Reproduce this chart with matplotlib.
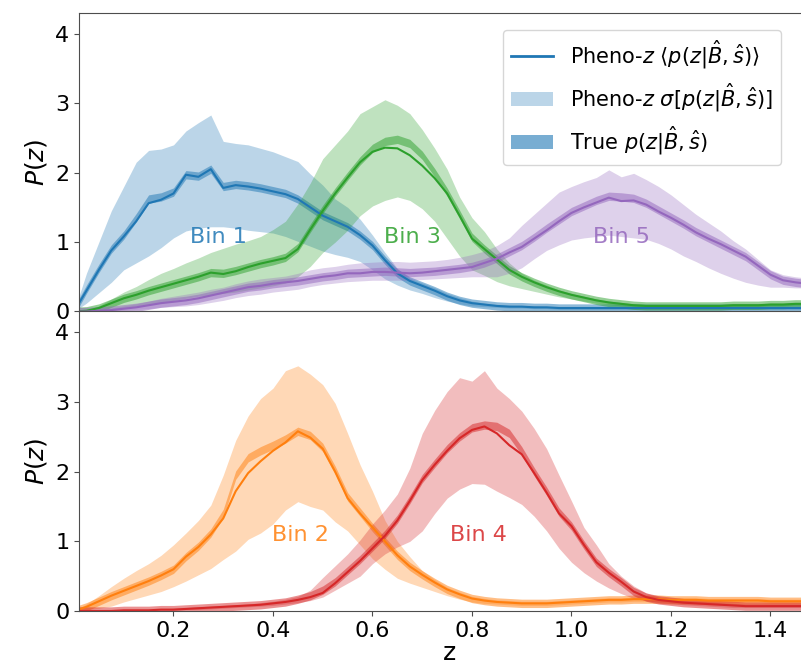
import numpy as np
import matplotlib
matplotlib.use("Agg")
import matplotlib.pyplot as plt
from matplotlib.lines import Line2D
from matplotlib.patches import Patch

# redshift grid the curves were read at (step 0.025)
z = np.linspace(0.0, 1.5, 61)

# ---- Bin 1 (blue) ----
bin1_mean = [0, 0.3, 0.6, 0.88, 1.08, 1.3, 1.56, 1.61, 1.7, 1.97, 1.94, 2.05, 1.78, 1.82, 1.8, 1.77,
             1.73, 1.69, 1.62, 1.5, 1.38, 1.3, 1.22, 1.1, 0.95, 0.74, 0.55, 0.44, 0.37, 0.3, 0.22, 0.16,
             0.12, 0.1, 0.08, 0.07, 0.07, 0.06, 0.06, 0.05, 0.05, 0.05, 0.05, 0.05, 0.05, 0.05, 0.05,
             0.05, 0.05, 0.05, 0.05, 0.05, 0.05, 0.05, 0.05, 0.05, 0.05, 0.05, 0.05, 0.05, 0.05]
bin1_hi = [0, 0.55, 1.0, 1.45, 1.8, 2.15, 2.32, 2.34, 2.4, 2.6, 2.72, 2.83, 2.45, 2.42, 2.4, 2.35,
           2.3, 2.23, 2.16, 1.98, 1.82, 1.62, 1.5, 1.33, 1.1, 0.85, 0.62, 0.48, 0.41, 0.34, 0.26, 0.2,
           0.15, 0.12, 0.1, 0.09, 0.08, 0.08, 0.07, 0.07, 0.07, 0.07, 0.07, 0.07, 0.07, 0.07, 0.07,
           0.07, 0.07, 0.07, 0.07, 0.07, 0.07, 0.07, 0.07, 0.07, 0.07, 0.07, 0.07, 0.07, 0.07]
bin1_lo = [0, 0.12, 0.27, 0.42, 0.6, 0.7, 0.8, 0.92, 1.06, 1.16, 1.2, 1.22, 1.22, 1.2, 1.17, 1.15,
           1.13, 1.08, 1.01, 0.94, 0.87, 0.82, 0.78, 0.72, 0.6, 0.47, 0.38, 0.31, 0.26, 0.2, 0.15, 0.11,
           0.08, 0.07, 0.06, 0.05, 0.05, 0.04, 0.04, 0.03, 0.03, 0.03, 0.03, 0.03, 0.03, 0.03, 0.03,
           0.03, 0.03, 0.03, 0.03, 0.03, 0.03, 0.03, 0.03, 0.03, 0.03, 0.03, 0.03, 0.03, 0.03]
bin1_true = [0, 0.32, 0.62, 0.9, 1.1, 1.35, 1.62, 1.65, 1.72, 1.97, 1.95, 2.05, 1.8, 1.83, 1.81, 1.78,
             1.74, 1.7, 1.62, 1.5, 1.38, 1.3, 1.22, 1.1, 0.95, 0.74, 0.55, 0.44, 0.37, 0.3, 0.22, 0.16,
             0.12, 0.1, 0.08, 0.07, 0.07, 0.06, 0.06, 0.05, 0.05, 0.05, 0.05, 0.05, 0.05, 0.05, 0.05,
             0.05, 0.05, 0.05, 0.05, 0.05, 0.05, 0.05, 0.05, 0.05, 0.05, 0.05, 0.05, 0.05, 0.05]

# ---- Bin 3 (green) ----
bin3_mean = [0, 0.01, 0.05, 0.12, 0.19, 0.24, 0.3, 0.35, 0.4, 0.45, 0.5, 0.56, 0.54, 0.58, 0.64, 0.69,
             0.73, 0.77, 0.9, 1.18, 1.45, 1.7, 1.93, 2.15, 2.3, 2.36, 2.35, 2.25, 2.1, 1.92, 1.7, 1.38,
             1.05, 0.9, 0.75, 0.6, 0.5, 0.42, 0.35, 0.29, 0.24, 0.2, 0.16, 0.13, 0.11, 0.09, 0.08,
             0.08, 0.08, 0.08, 0.08, 0.08, 0.08, 0.09, 0.09, 0.09, 0.1, 0.1, 0.11, 0.11, 0.12]
bin3_hi = [0, 0.02, 0.08, 0.18, 0.28, 0.36, 0.46, 0.55, 0.62, 0.7, 0.77, 0.85, 0.91, 0.97, 1.02, 1.08,
           1.18, 1.3, 1.55, 1.85, 2.2, 2.4, 2.6, 2.85, 2.95, 3.05, 2.97, 2.85, 2.62, 2.35, 2.05, 1.65,
           1.35, 1.15, 0.9, 0.7, 0.55, 0.45, 0.38, 0.31, 0.26, 0.22, 0.18, 0.15, 0.13, 0.11, 0.1,
           0.1, 0.1, 0.1, 0.1, 0.1, 0.1, 0.11, 0.11, 0.11, 0.12, 0.12, 0.13, 0.13, 0.14]
bin3_lo = [0, 0, 0.01, 0.03, 0.05, 0.08, 0.1, 0.13, 0.16, 0.19, 0.22, 0.24, 0.26, 0.28, 0.31, 0.34,
           0.37, 0.41, 0.5, 0.65, 0.85, 1.0, 1.17, 1.38, 1.52, 1.6, 1.65, 1.6, 1.48, 1.3, 1.05, 0.8,
           0.6, 0.52, 0.43, 0.37, 0.33, 0.29, 0.25, 0.21, 0.18, 0.15, 0.12, 0.1, 0.08, 0.07, 0.06,
           0.06, 0.06, 0.06, 0.06, 0.06, 0.06, 0.07, 0.07, 0.07, 0.08, 0.08, 0.09, 0.09, 0.1]
bin3_true = [0, 0.01, 0.05, 0.12, 0.19, 0.24, 0.3, 0.35, 0.4, 0.45, 0.5, 0.56, 0.55, 0.59, 0.64, 0.69,
             0.73, 0.78, 0.92, 1.2, 1.47, 1.72, 1.95, 2.17, 2.35, 2.45, 2.48, 2.42, 2.25, 2.0, 1.72, 1.4,
             1.07, 0.9, 0.75, 0.6, 0.5, 0.42, 0.35, 0.29, 0.24, 0.2, 0.16, 0.13, 0.11, 0.09, 0.08,
             0.08, 0.08, 0.08, 0.08, 0.08, 0.08, 0.09, 0.09, 0.09, 0.1, 0.1, 0.11, 0.11, 0.12]

# ---- Bin 5 (purple) ----
bin5_mean = [0, 0, 0.01, 0.02, 0.04, 0.06, 0.09, 0.12, 0.14, 0.16, 0.19, 0.23, 0.27, 0.31, 0.35, 0.37,
             0.4, 0.42, 0.44, 0.47, 0.5, 0.52, 0.55, 0.55, 0.57, 0.57, 0.56, 0.55, 0.56, 0.58, 0.6, 0.62,
             0.64, 0.7, 0.76, 0.85, 0.93, 1.05, 1.17, 1.3, 1.42, 1.5, 1.57, 1.64, 1.59, 1.6, 1.54,
             1.44, 1.35, 1.25, 1.14, 1.05, 0.97, 0.88, 0.79, 0.66, 0.53, 0.45, 0.42, 0.4, 0.39]
bin5_hi = [0, 0.01, 0.03, 0.05, 0.08, 0.11, 0.15, 0.19, 0.22, 0.25, 0.28, 0.32, 0.35, 0.4, 0.44, 0.47,
           0.49, 0.51, 0.55, 0.6, 0.63, 0.65, 0.68, 0.7, 0.71, 0.72, 0.72, 0.71, 0.72, 0.73, 0.75, 0.78,
           0.82, 0.87, 0.95, 1.06, 1.24, 1.4, 1.56, 1.72, 1.8, 1.87, 1.93, 2.04, 1.94, 1.99, 1.9,
           1.8, 1.68, 1.54, 1.4, 1.28, 1.16, 1.02, 0.9, 0.75, 0.6, 0.53, 0.5, 0.48, 0.47]
bin5_lo = [0, 0, 0, 0.01, 0.02, 0.03, 0.04, 0.06, 0.07, 0.08, 0.1, 0.13, 0.16, 0.2, 0.23, 0.25,
           0.28, 0.3, 0.32, 0.36, 0.39, 0.41, 0.43, 0.44, 0.45, 0.45, 0.45, 0.45, 0.46, 0.47, 0.48, 0.49,
           0.5, 0.5, 0.5, 0.55, 0.63, 0.76, 0.88, 0.96, 1.03, 1.06, 1.08, 1.1, 1.08, 1.06, 1.04,
           0.98, 0.9, 0.8, 0.72, 0.63, 0.55, 0.48, 0.42, 0.38, 0.35, 0.35, 0.34, 0.34, 0.33]
bin5_true = [0, 0, 0.01, 0.02, 0.04, 0.06, 0.09, 0.12, 0.14, 0.16, 0.19, 0.23, 0.27, 0.31, 0.35, 0.37,
             0.4, 0.42, 0.44, 0.47, 0.5, 0.52, 0.55, 0.56, 0.57, 0.58, 0.57, 0.56, 0.57, 0.58, 0.6, 0.62,
             0.65, 0.7, 0.77, 0.86, 0.95, 1.07, 1.2, 1.32, 1.44, 1.52, 1.6, 1.66, 1.65, 1.63, 1.56,
             1.46, 1.36, 1.26, 1.15, 1.06, 0.97, 0.88, 0.79, 0.66, 0.53, 0.45, 0.42, 0.4, 0.39]

# ---- Bin 2 (orange) ----
bin2_mean = [0, 0.06, 0.14, 0.22, 0.29, 0.36, 0.43, 0.51, 0.6, 0.78, 0.92, 1.1, 1.33, 1.72, 1.98, 2.15,
             2.3, 2.42, 2.58, 2.49, 2.33, 2.0, 1.62, 1.4, 1.2, 1.0, 0.8, 0.64, 0.52, 0.41, 0.31, 0.24,
             0.18, 0.15, 0.13, 0.12, 0.11, 0.11, 0.11, 0.12, 0.13, 0.14, 0.15, 0.16, 0.16, 0.17, 0.17,
             0.17, 0.16, 0.16, 0.16, 0.15, 0.15, 0.15, 0.15, 0.15, 0.14, 0.14, 0.14, 0.14, 0.14]
bin2_hi = [0, 0.1, 0.22, 0.35, 0.47, 0.58, 0.68, 0.8, 0.95, 1.12, 1.3, 1.52, 1.95, 2.45, 2.8, 3.05,
           3.2, 3.45, 3.52, 3.4, 3.25, 2.98, 2.55, 2.1, 1.72, 1.3, 1.0, 0.78, 0.58, 0.45, 0.34, 0.27,
           0.21, 0.18, 0.16, 0.15, 0.14, 0.14, 0.14, 0.15, 0.16, 0.17, 0.18, 0.19, 0.19, 0.2, 0.2,
           0.2, 0.19, 0.19, 0.19, 0.18, 0.18, 0.18, 0.18, 0.18, 0.17, 0.17, 0.17, 0.17, 0.17]
bin2_lo = [0, 0.02, 0.04, 0.07, 0.13, 0.18, 0.23, 0.28, 0.35, 0.43, 0.52, 0.61, 0.74, 0.86, 1.03, 1.12,
           1.25, 1.45, 1.57, 1.5, 1.45, 1.28, 1.15, 0.95, 0.75, 0.6, 0.47, 0.4, 0.34, 0.28, 0.22, 0.17,
           0.13, 0.11, 0.1, 0.09, 0.08, 0.08, 0.08, 0.09, 0.1, 0.11, 0.12, 0.13, 0.13, 0.14, 0.14,
           0.14, 0.13, 0.13, 0.13, 0.12, 0.12, 0.12, 0.12, 0.12, 0.11, 0.11, 0.11, 0.11, 0.11]
bin2_true = [0, 0.06, 0.14, 0.22, 0.29, 0.36, 0.43, 0.51, 0.6, 0.78, 0.93, 1.12, 1.4, 1.95, 2.2, 2.3,
             2.38, 2.47, 2.58, 2.52, 2.35, 2.02, 1.64, 1.42, 1.2, 1.0, 0.8, 0.64, 0.52, 0.41, 0.31, 0.24,
             0.18, 0.15, 0.13, 0.12, 0.11, 0.11, 0.11, 0.12, 0.13, 0.14, 0.15, 0.16, 0.16, 0.17, 0.17,
             0.17, 0.16, 0.16, 0.16, 0.15, 0.15, 0.15, 0.15, 0.15, 0.14, 0.14, 0.14, 0.14, 0.14]

# ---- Bin 4 (red) ----
bin4_mean = [0, 0, 0, 0, 0.01, 0.01, 0.01, 0.02, 0.02, 0.03, 0.04, 0.05, 0.06, 0.07, 0.08, 0.09,
             0.11, 0.13, 0.16, 0.2, 0.26, 0.4, 0.56, 0.72, 0.9, 1.08, 1.3, 1.58, 1.88, 2.1, 2.3, 2.48,
             2.6, 2.65, 2.55, 2.38, 2.25, 1.98, 1.7, 1.4, 1.22, 0.95, 0.7, 0.55, 0.42, 0.28, 0.2,
             0.16, 0.14, 0.12, 0.11, 0.1, 0.09, 0.08, 0.07, 0.07, 0.07, 0.07, 0.07, 0.07, 0.07]
bin4_hi = [0, 0, 0.01, 0.01, 0.02, 0.02, 0.02, 0.03, 0.04, 0.05, 0.06, 0.07, 0.08, 0.09, 0.1, 0.12,
           0.14, 0.17, 0.21, 0.3, 0.48, 0.65, 0.82, 1.02, 1.25, 1.45, 1.68, 2.05, 2.55, 2.88, 3.15, 3.35,
           3.3, 3.45, 3.2, 3.05, 2.87, 2.62, 2.33, 1.95, 1.58, 1.2, 0.95, 0.68, 0.5, 0.36, 0.26,
           0.2, 0.17, 0.15, 0.14, 0.13, 0.12, 0.11, 0.1, 0.1, 0.1, 0.1, 0.1, 0.1, 0.1]
bin4_lo = [0, 0, 0, 0, 0, 0, 0, 0.01, 0.01, 0.02, 0.02, 0.03, 0.04, 0.05, 0.06, 0.07,
           0.08, 0.1, 0.12, 0.15, 0.2, 0.3, 0.4, 0.5, 0.68, 0.82, 0.92, 1.0, 1.15, 1.4, 1.62, 1.75,
           1.83, 1.82, 1.72, 1.63, 1.53, 1.36, 1.15, 0.9, 0.7, 0.55, 0.43, 0.33, 0.25, 0.18, 0.15,
           0.12, 0.11, 0.09, 0.08, 0.07, 0.06, 0.05, 0.05, 0.05, 0.05, 0.05, 0.05, 0.05, 0.05]
bin4_true = [0, 0, 0, 0, 0.01, 0.01, 0.01, 0.02, 0.02, 0.03, 0.04, 0.05, 0.06, 0.07, 0.08, 0.09,
             0.11, 0.13, 0.17, 0.22, 0.3, 0.42, 0.58, 0.74, 0.92, 1.1, 1.32, 1.6, 1.9, 2.12, 2.33, 2.5,
             2.63, 2.67, 2.65, 2.55, 2.3, 2.0, 1.72, 1.42, 1.22, 0.95, 0.7, 0.55, 0.42, 0.28, 0.2,
             0.16, 0.14, 0.12, 0.11, 0.1, 0.09, 0.08, 0.07, 0.07, 0.07, 0.07, 0.07, 0.07, 0.07]

bin_labels = ['Bin 1', 'Bin 2', 'Bin 3', 'Bin 4', 'Bin 5']
label_z = [0.29, 0.455, 0.68, 0.812, 1.1]
label_p = [1.07, 1.09, 1.07, 1.09, 1.07]

true_halfwidth = 0.06

colors = {1: '#1f77b4', 2: '#ff7f0e', 3: '#2ca02c', 4: '#d62728', 5: '#9467bd'}

fig = plt.figure(figsize=(8.01, 6.68), dpi=100)
ax_top = fig.add_axes([0.0986, 0.5337, 0.9254, 0.4469])
ax_bot = fig.add_axes([0.0986, 0.0853, 0.9254, 0.4484], sharex=ax_top)


def draw_bin(ax, mean, lo, hi, true, c):
    ax.fill_between(z, lo, hi, color=c, alpha=0.3, lw=0)
    tr = np.array(true)
    ax.fill_between(z, tr - true_halfwidth, tr + true_halfwidth, color=c, alpha=0.5, lw=0)
    ax.plot(z, mean, color=c, lw=1.5)


draw_bin(ax_top, bin1_mean, bin1_lo, bin1_hi, bin1_true, colors[1])
draw_bin(ax_top, bin3_mean, bin3_lo, bin3_hi, bin3_true, colors[3])
draw_bin(ax_top, bin5_mean, bin5_lo, bin5_hi, bin5_true, colors[5])
draw_bin(ax_bot, bin2_mean, bin2_lo, bin2_hi, bin2_true, colors[2])
draw_bin(ax_bot, bin4_mean, bin4_lo, bin4_hi, bin4_true, colors[4])

for i, lab in enumerate(bin_labels):
    n = i + 1
    ax = ax_top if n % 2 == 1 else ax_bot
    ax.text(label_z[i], label_p[i], lab, color=colors[n], fontsize=16,
            ha='center', va='center', alpha=0.85)

for ax in (ax_top, ax_bot):
    ax.set_xlim(0.01, 1.5)
    ax.set_ylim(0, 4.3)
    ax.set_yticks([0, 1, 2, 3, 4])
    ax.set_ylabel('$P(z)$', fontsize=18)
    ax.tick_params(labelsize=16, color='0.3')
    for s in ax.spines.values():
        s.set_color('0.3')
ax_bot.spines['right'].set_visible(False)
ax_top.spines['right'].set_visible(False)
ax_top.tick_params(axis='x', bottom=False, labelbottom=False)
ax_bot.set_xticks([0.2, 0.4, 0.6, 0.8, 1.0, 1.2, 1.4])
ax_bot.set_xlabel('z', fontsize=18, labelpad=0)

handles = [Line2D([], [], color=colors[1], lw=2),
           Patch(facecolor=colors[1], alpha=0.3, lw=0),
           Patch(facecolor=colors[1], alpha=0.6, lw=0)]
labels = [r'Pheno-$z$ $\langle p(z|\hat{B},\hat{s})\rangle$',
          r'Pheno-$z$ $\sigma[p(z|\hat{B},\hat{s})]$',
          r'True $p(z|\hat{B},\hat{s})$']
ax_top.legend(handles, labels, loc='upper left', bbox_to_anchor=(503 / 801, 1 - 30 / 668),
              bbox_transform=fig.transFigure, borderaxespad=0, fontsize=15)

fig.savefig('out.png', dpi=100)
